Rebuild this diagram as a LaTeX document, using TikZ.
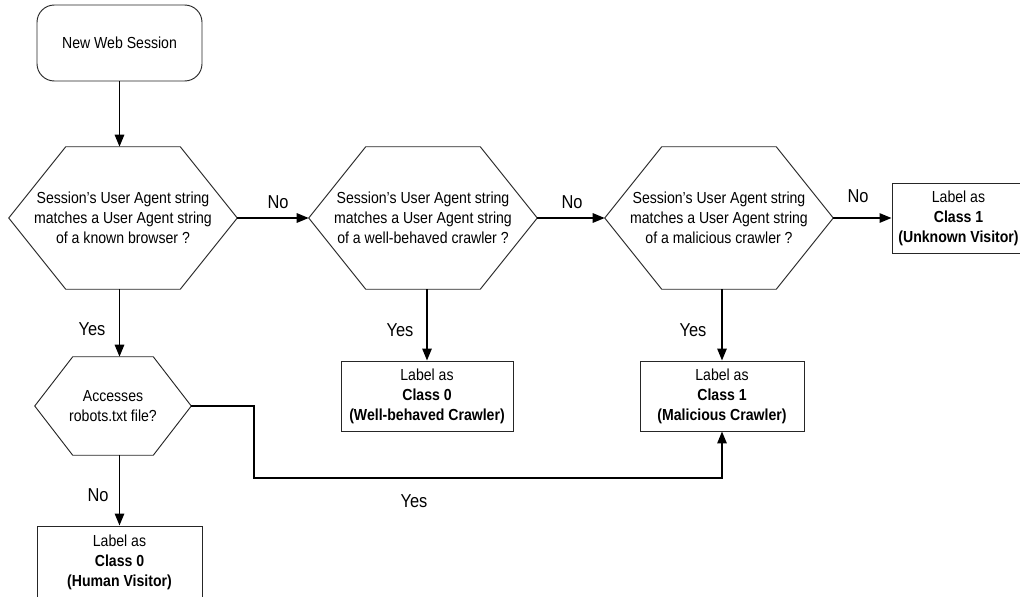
\documentclass[tikz,border=0pt]{standalone}
\usepackage{fontspec}
\setmainfont{Liberation Sans}[FakeStretch=0.88]
\usetikzlibrary{arrows.meta}
\newcommand\hexoutline[2]{%
  \draw[shapeline] ([xshift=#2*0.75pt]#1.north west) -- ([xshift=-#2*0.75pt]#1.north east) -- (#1.east)
    -- ([xshift=-#2*0.75pt]#1.south east) -- ([xshift=#2*0.75pt]#1.south west) -- (#1.west) -- cycle;}
\begin{document}
\begin{tikzpicture}[x=0.75pt,y=-0.75pt,
  txt/.style={font=\fontsize{12}{15}\selectfont, align=center},
  lbl/.style={font=\fontsize{14}{16}\selectfont, inner sep=0pt},
  shapeline/.style={draw=black!85, line width=0.7pt},
  hexbox/.style={txt, draw=none, inner sep=0pt},
  boxnode/.style={txt, shapeline, inner sep=0pt, minimum height=70*0.75pt},
  arr/.style={line width=1.4pt, -{Triangle[length=9pt,width=7pt]}}]
\useasboundingbox (0,0) rectangle (1020,596);
\clip (0,0) rectangle (1020,596);

\node[txt, shapeline, rounded corners=13pt, minimum width=165*0.75pt, minimum height=76*0.75pt, inner sep=0pt] (start) at (119.5,43) {New Web Session};

\node[hexbox, minimum width=171pt, minimum height=106.5pt] (h1) at (123,218) {Session’s User Agent string\\matches a User Agent string\\of a known browser ?};
\hexoutline{h1}{57}
\node[hexbox, minimum width=171pt, minimum height=106.5pt] (h2) at (423,218) {Session’s User Agent string\\matches a User Agent string\\of a well-behaved crawler ?};
\hexoutline{h2}{57}
\node[hexbox, minimum width=171pt, minimum height=106.5pt] (h3) at (719,218) {Session’s User Agent string\\matches a User Agent string\\of a malicious crawler ?};
\hexoutline{h3}{57}
\node[hexbox, minimum width=117pt, minimum height=73.5pt] (h4) at (113,406) {Accesses\\robots.txt file?};
\hexoutline{h4}{38}

\node[boxnode, minimum width=172*0.75pt] (wb) at (427,396) {Label as\\\textbf{Class 0}\\\textbf{(Well-behaved Crawler)}};
\node[boxnode, minimum width=164*0.75pt] (mal) at (722,396) {Label as\\\textbf{Class 1}\\\textbf{(Malicious Crawler)}};
\node[boxnode, minimum width=133*0.75pt] (unk) at (958.5,218) {Label as\\\textbf{Class 1}\\\textbf{(Unknown Visitor)}};
\node[boxnode, minimum width=165*0.75pt, minimum height=72*0.75pt] (hum) at (119.5,562) {Label as\\\textbf{Class 0}\\\textbf{(Human Visitor)}};

\draw[arr] (start.south) -- (start.south |- h1.north);
\draw[arr] (h1.east) -- (h2.west);
\draw[arr] (h2.east) -- (h3.west);
\draw[arr] (h3.east) -- (unk.west);
\draw[arr] (h1.south -| hum.north) -- (h4.north -| hum.north);
\draw[arr] (h2.south -| wb.north) -- (wb.north);
\draw[arr] (h3.south -| mal.north) -- (mal.north);
\draw[arr] (h4.south -| hum.north) -- (hum.north);
\coordinate (bend) at (254,478);
\draw[arr] (h4.east) -| (bend) -| (mal.south);

\node[lbl] (no1) at (278,202) {No};
\node[lbl] (no2) at (572,202) {No};
\node[lbl] (no3) at (858,196) {No};
\node[lbl] (yes1) at (92,329) {Yes};
\node[lbl] (yes2) at (400,330) {Yes};
\node[lbl] (yes3) at (693,330) {Yes};
\node[lbl] (no4) at (98,495) {No};
\node[lbl] (yes4) at (414,501) {Yes};
\end{tikzpicture}
\end{document}
